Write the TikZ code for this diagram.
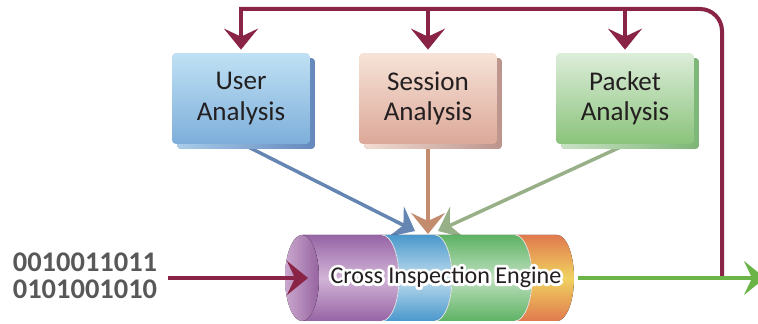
\documentclass[tikz,border=0pt]{standalone}
\usepackage{fontspec}
\setmainfont{Carlito}
\usetikzlibrary{arrows.meta,positioning,calc,shadows,backgrounds}
\definecolor{maroon}{RGB}{138,36,70}
\definecolor{outgreen}{RGB}{106,180,72}
\definecolor{ink}{RGB}{35,31,32}
\definecolor{bitgray}{RGB}{88,88,88}
\definecolor{usertop}{RGB}{192,225,244}
\definecolor{userbot}{RGB}{125,174,218}
\definecolor{userside}{RGB}{100,137,189}
\definecolor{userlow}{RGB}{169,204,233}
\definecolor{sesstop}{RGB}{246,227,215}
\definecolor{sessbot}{RGB}{220,168,153}
\definecolor{sessside}{RGB}{188,148,140}
\definecolor{sesslow}{RGB}{242,220,210}
\definecolor{pkttop}{RGB}{221,237,218}
\definecolor{pktbot}{RGB}{138,195,123}
\definecolor{pktside}{RGB}{125,182,118}
\definecolor{pktlow}{RGB}{200,226,196}
\definecolor{userline}{RGB}{101,133,178}
\definecolor{sessline}{RGB}{195,140,110}
\definecolor{pktline}{RGB}{151,176,135}
\definecolor{cylpurple}{RGB}{150,100,165}
\definecolor{cylpurpleL}{RGB}{210,180,215}
\definecolor{cylblue}{RGB}{74,152,204}
\definecolor{cylblueL}{RGB}{190,220,238}
\definecolor{cylgreen}{RGB}{94,178,100}
\definecolor{cylgreenL}{RGB}{190,224,190}
\definecolor{cylorange}{RGB}{224,122,78}
\definecolor{cylorangeL}{RGB}{240,210,96}
\definecolor{facelt}{RGB}{202,168,206}
\definecolor{facedk}{RGB}{150,100,160}
\newcommand\panelfont{\fontsize{15.4}{17.1}\selectfont}
\newcommand\enginefont{\fontsize{13.7}{15}\selectfont}
\newcommand\bitfont{\bfseries\fontsize{16.2}{15.4}\selectfont}
% white outline behind the engine label
\newcommand\halo[1]{\rlap{\special{pdf:literal direct 1 1 1 RG 3.2 w 1 j 1 Tr}#1\special{pdf:literal direct 0 Tr}}#1}
\tikzset{
  panel/.style={rounded corners=0.08cm, minimum width=2.76cm, minimum height=1.82cm,
                inner sep=0pt, align=center, font=\panelfont, text=ink},
  userbox/.style={panel, top color=usertop, bottom color=userbot,
                drop shadow={shadow xshift=0.1cm, shadow yshift=-0.1cm, opacity=1,
                             left color=userlow, right color=userside}},
  sessbox/.style={panel, top color=sesstop, bottom color=sessbot,
                drop shadow={shadow xshift=0.1cm, shadow yshift=-0.1cm, opacity=1,
                             left color=sesslow, right color=sessside}},
  pktbox/.style={panel, top color=pkttop, bottom color=pktbot,
                drop shadow={shadow xshift=0.1cm, shadow yshift=-0.1cm, opacity=1,
                             left color=pktlow, right color=pktside}},
  bigtip/.tip={Stealth[length=0.42cm, width=0.68cm, inset=0.16cm]},
  loopline/.style={maroon, line width=0.08cm, line cap=rect},
  fbarrow/.style={maroon, line width=0.07cm, -bigtip, shorten >=0.06cm},
  inflow/.style={line width=0.07cm, -bigtip},
  seam/.style={white!85!gray, line width=0.4pt},
}

\begin{document}
\begin{tikzpicture}[x=0.02cm, y=-0.02cm]
  \useasboundingbox (0,0) rectangle (758,324);
  \def\rx{0.34cm}
  \def\ry{0.86cm}
  % analysis boxes
  \node[userbox] (user) at (241,98.5) {User\\Analysis};
  \node[sessbox] (session) at (428,98.5) {Session\\Analysis};
  \node[pktbox] (packet) at (625,98.5) {Packet\\Analysis};
  % engine body
  \foreach \a/\b/\c in {302/382/cylpurple, 382/435/cylblue, 435/515/cylgreen, 515/557/cylorange}
    \fill[top color=\c, bottom color=\c, middle color=\c L]
      (\a,235) -- (\b,235) arc[start angle=90, end angle=-90, x radius=\rx, y radius=\ry]
      -- (\a,321) arc[start angle=-90, end angle=90, x radius=\rx, y radius=\ry] -- cycle;
  \foreach \b in {382,435,515}
    \draw[seam] (\b,235) arc[start angle=90, end angle=-90, x radius=\rx, y radius=\ry];
  \fill[left color=facelt, right color=facedk] (302,278) ellipse[x radius=\rx, y radius=\ry];
  \node[font=\enginefont, text=ink, inner sep=0pt] (engine) at (446,277) {\halo{Cross Inspection Engine}};
  \coordinate (engine-in) at (308,278);
  \coordinate (engine-out) at (578,278);
  \coordinate (tip-u) at (415,231);
  \coordinate (tip-s) at (428,234);
  \coordinate (tip-p) at (438,231);
  \coordinate (tap) at (722,278);
  \coordinate (out) at (765,278);
  \coordinate (feed) at (241,9);
  % input bits
  \node[font=\bitfont, text=bitgray, align=left, inner sep=0pt] (bits) at (85,276) {0010011011\\0101001010};
  \draw[inflow, maroon, shorten <=0.22cm] (bits.east |- engine-in) -- (engine-in);
  % analysis results into the engine
  \begin{scope}[on background layer]
    \draw[inflow, userline] ($(user.south)+(6,2)$) -- (tip-u);
    \draw[inflow, sessline] (session.south) -- (tip-s);
    \draw[inflow, pktline] ($(packet.south)+(-3,2)$) -- (tip-p);
  \end{scope}
  % output and feedback loop
  \draw[loopline, rounded corners=0.44cm] (tap) |- (feed);
  \draw[fbarrow] (feed) -- (user.north);
  \draw[fbarrow] (feed -| session.north) -- (session.north);
  \draw[fbarrow] (feed -| packet.north) -- (packet.north);
  \draw[inflow, outgreen] (engine-out) -- (out);
\end{tikzpicture}
\end{document}
